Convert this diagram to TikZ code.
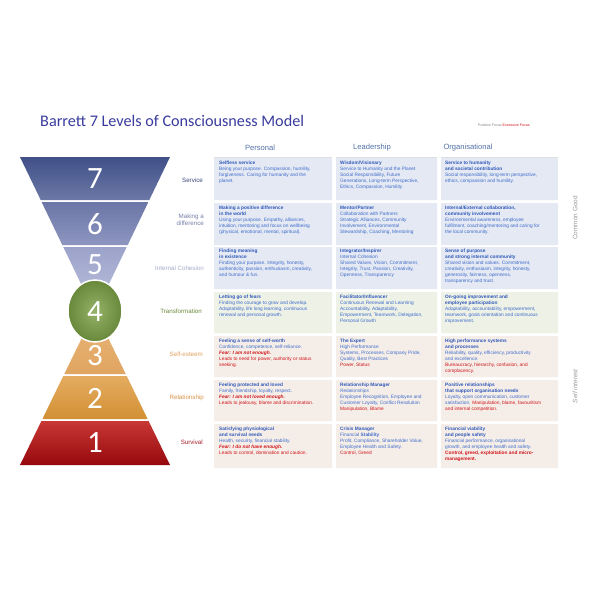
\documentclass[tikz,border=0pt]{standalone}
\usepackage{fontspec}
\setmainfont{Liberation Sans}
\newfontfamily\titlefont{Carlito}
\usetikzlibrary{shapes.geometric}
\definecolor{cblue}{HTML}{3F6CCC}
\definecolor{cbold}{HTML}{2F58BA}
\definecolor{cred}{HTML}{D0141A}
\definecolor{hdr}{HTML}{5272A6}
\definecolor{titlec}{HTML}{3A3C9E}
\definecolor{rowblue}{HTML}{E4E9F3}
\definecolor{rowgreen}{HTML}{EDF1E6}
\definecolor{rowbeige}{HTML}{F5EEE8}
\newcommand\ttl[1]{{\color{cbold}\textbf{#1}}}
\newcommand\rd[1]{{\color{cred}#1}}
\newcommand\fear[1]{{\color{cred}\textbf{\textit{#1}}}}
\begin{document}
\begin{tikzpicture}[x=1pt,y=-1pt,
  celltext/.style={anchor=north west, align=left, inner sep=0pt, text=cblue, font=\fontsize{4.8}{6}\selectfont},
  levellabel/.style={anchor=east, align=right, inner sep=0pt, font=\fontsize{6.2}{7.2}\selectfont},
  numlabel/.style={text=white, inner sep=0pt, font=\titlefont\fontsize{31}{31}\selectfont},
  header/.style={text=hdr, inner sep=0pt, font=\fontsize{7.6}{9}\selectfont},
  sidelabel/.style={text=gray!80, rotate=90, inner sep=0pt, font=\fontsize{6.4}{8}\selectfont}]
\useasboundingbox (0,0) rectangle (600,600);
\fill[white] (0,0) rectangle (600,600);

% title and legend
\node[anchor=west, inner sep=0pt, text=titlec, font=\titlefont\fontsize{16.2}{18}\selectfont] (title) at (40,121) {Barrett 7 Levels of Consciousness Model};
\node[anchor=west, inner sep=0pt, font=\fontsize{3.6}{4}\selectfont] (legend) at (478,125) {{\color{gray}Positive Focus} \rd{Excessive Focus}};

% headers
\node[header] (hp) at (260,148) {Personal};
\node[header] (hl) at (372,148) {Leadership};
\node[header] (ho) at (468,148) {Organisational};
\draw[gray!25, line width=0.6] (214,157) -- (332,157) (336,157) -- (437,157) (441,157) -- (558,157);

% pyramid
\shade[top color={rgb,255:red,64;green,80;blue,136}, bottom color={rgb,255:red,108;green,120;blue,166}] (20,157) -- (170,157) -- (149.3,200) -- (40.7,200) -- cycle;
\shade[top color={rgb,255:red,106;green,118;blue,166}, bottom color={rgb,255:red,142;green,150;blue,192}] (41.6,202) -- (148.4,202) -- (127.7,245) -- (62.3,245) -- cycle;
\shade[top color={rgb,255:red,156;green,163;blue,202}, bottom color={rgb,255:red,190;green,196;blue,222}] (63.3,247) -- (126.7,247) -- (95,313) -- cycle;
\shade[top color={rgb,255:red,234;green,184;blue,124}, bottom color={rgb,255:red,224;green,164;blue,96}] (95,311) -- (125.7,374) -- (64.3,374) -- cycle;
\shade[top color={rgb,255:red,228;green,172;blue,96}, bottom color={rgb,255:red,210;green,144;blue,52}] (63.3,376) -- (126.7,376) -- (147.6,419) -- (42.4,419) -- cycle;
\shade[top color={rgb,255:red,200;green,56;blue,52}, bottom color={rgb,255:red,150;green,8;blue,14}] (41.4,421) -- (148.6,421) -- (170,465) -- (20,465) -- cycle;
\shade[inner color={rgb,255:red,150;green,178;blue,104}, outer color={rgb,255:red,104;green,136;blue,58}, draw=white, line width=1.5] (95,311) ellipse [x radius=27, y radius=31];

\node[numlabel] (n7) at (95,179) {7};
\node[numlabel] (n6) at (95,224) {6};
\node[numlabel] (n5) at (95,265) {5};
\node[numlabel] (n4) at (95,312) {4};
\node[numlabel] (n3) at (95,356) {3};
\node[numlabel] (n2) at (95,398) {2};
\node[numlabel] (n1) at (95,443) {1};

\node[levellabel, text={rgb,255:red,58;green,72;blue,125}] (l7) at (203,180) {Service};
\node[levellabel, text={rgb,255:red,120;green,128;blue,170}] (l6) at (204,220) {Making a\\difference};
\node[levellabel, text={rgb,255:red,165;green,172;blue,200}] (l5) at (204,268) {Internal Cohesion};
\node[levellabel, text={rgb,255:red,105;green,138;blue,58}] (l4) at (202,311) {Transformation};
\node[levellabel, text={rgb,255:red,226;green,160;blue,96}] (l3) at (203,354) {Self-esteem};
\node[levellabel, text={rgb,255:red,214;green,146;blue,70}] (l2) at (204,398) {Relationship};
\node[levellabel, text={rgb,255:red,168;green,30;blue,42}] (l1) at (203,442) {Survival};

% cells
\fill[rowblue] (214,158) rectangle (332,200) (336,158) rectangle (437,200) (441,158) rectangle (558,200);
\fill[rowblue] (214,203) rectangle (332,245) (336,203) rectangle (437,245) (441,203) rectangle (558,245);
\fill[rowblue] (214,247) rectangle (332,289) (336,247) rectangle (437,289) (441,247) rectangle (558,289);
\fill[rowgreen] (214,292) rectangle (332,333) (336,292) rectangle (437,333) (441,292) rectangle (558,333);
\fill[rowbeige] (214,336) rectangle (332,377) (336,336) rectangle (437,377) (441,336) rectangle (558,377);
\fill[rowbeige] (214,380) rectangle (332,421) (336,380) rectangle (437,421) (441,380) rectangle (558,421);
\fill[rowbeige] (214,424) rectangle (332,468) (336,424) rectangle (437,468) (441,424) rectangle (558,468);

% row 7
\node[celltext] (p7) at (219,160.5) {\ttl{Selfless service}\\Being your purpose. Compassion, humility,\\forgiveness. Caring for humanity and the\\planet.};
\node[celltext] (d7) at (340,160.5) {\ttl{Wisdom/Visionary}\\Service to Humanity and the Planet\\Social Responsibility, Future\\Generations, Long-term Perspective,\\Ethics, Compassion, Humility};
\node[celltext] (o7) at (445,160.5) {\ttl{Service to humanity}\\\ttl{and societal contribution}\\Social responsibility, long-term perspective,\\ethics, compassion and humility.};
% row 6
\node[celltext] (p6) at (219,205.5) {\ttl{Making a positive difference}\\\ttl{in the world}\\Using your purpose. Empathy,  alliances,\\intuition, mentoring and focus on wellbeing\\(physical, emotional, mental, spiritual).};
\node[celltext] (d6) at (340,205.5) {\ttl{Mentor/Partner}\\Collaboration with Partners\\Strategic Alliances, Community\\Involvement, Environmental\\Stewardship, Coaching, Mentoring};
\node[celltext] (o6) at (445,205.5) {\ttl{Internal/External collaboration,}\\\ttl{community involvement}\\Environmental awareness, employee\\fulfilment, coaching/mentoring and caring for\\the local community.};
% row 5
\node[celltext] (p5) at (219,249) {\ttl{Finding meaning}\\\ttl{in existence}\\Finding your purpose. Integrity, honesty,\\authenticity, passion, enthusiasm, creativity,\\and humour \& fun.};
\node[celltext] (d5) at (340,249) {\ttl{Integrator/Inspirer}\\Internal Cohesion\\Shared Values, Vision, Commitment,\\Integrity, Trust, Passion, Creativity,\\Openness, Transparency};
\node[celltext] (o5) at (445,249) {\ttl{Sense of purpose}\\\ttl{and strong internal community}\\Shared vision and values. Commitment,\\creativity, enthusiasm, integrity, honesty,\\generosity, fairness, openness,\\transparency and trust.};
% row 4
\node[celltext] (p4) at (219,294.5) {\ttl{Letting go of fears}\\Finding the courage to grow and develop.\\Adaptability, life long learning, continuous\\renewal and personal growth.};
\node[celltext] (d4) at (340,294.5) {\ttl{Facilitator/Influencer}\\Continuous Renewal and Learning\\Accountability, Adaptability,\\Empowerment, Teamwork, Delegation,\\Personal Growth};
\node[celltext] (o4) at (445,294.5) {\ttl{On-going improvement and}\\\ttl{employee participation}\\Adaptability, accountability, empowerment,\\teamwork, goals orientation and continuous\\improvement.};
% row 3
\node[celltext] (p3) at (219,338.5) {\ttl{Feeling a sense of self-worth}\\Confidence, competence, self-reliance.\\\fear{Fear: I am not enough.}\\\rd{Leads to need for power, authority or status}\\\rd{seeking.}};
\node[celltext] (d3) at (340,338.5) {\ttl{The Expert}\\High Performance\\Systems, Processes, Company Pride,\\Quality, Best Practices\\\rd{Power, Status}};
\node[celltext] (o3) at (445,338.5) {\ttl{High performance systems}\\\ttl{and processes}\\Reliability, quality, efficiency, productivity\\and excellence.\\\rd{Bureaucracy, hierarchy, confusion, and}\\\rd{complacency.}};
% row 2
\node[celltext] (p2) at (219,382.5) {\ttl{Feeling protected and loved}\\Family, friendship, loyalty, respect.\\\fear{Fear: I am not loved enough.}\\\rd{Leads to jealousy, blame and discrimination.}};
\node[celltext] (d2) at (340,382.5) {\ttl{Relationship Manager}\\\textit{Relationships}\\Employee Recognition, Employee and\\Customer Loyalty, Conflict Resolution\\\rd{Manipulation, Blame}};
\node[celltext] (o2) at (445,382.5) {\ttl{Positive relationships}\\\ttl{that support organisation needs}\\Loyalty, open communication, customer\\satisfaction. \rd{Manipulation, blame, favouritism}\\\rd{and internal competition.}};
% row 1
\node[celltext] (p1) at (219,427) {\ttl{Satisfying physiological}\\\ttl{and survival needs}\\Health, security, financial stability.\\\fear{Fear: I do not have enough.}\\\rd{Leads to control, domination and caution.}};
\node[celltext] (d1) at (340,427) {\ttl{Crisis Manager}\\Financial \textbf{Stability}\\Profit, Compliance, Shareholder Value,\\Employee Health and Safety.\\\rd{Control, Greed}};
\node[celltext] (o1) at (445,427) {\ttl{Financial viability}\\\ttl{and people safety}\\Financial performance, organisational\\growth, and employee health and safety.\\\rd{\textbf{Control, greed, exploitation and micro-}}\\\rd{\textbf{management.}}};

% side labels
\node[sidelabel] (cg) at (575,218) {Common Good};
\node[sidelabel] (si) at (575,386) {\textit{Self interest}};
\end{tikzpicture}
\end{document}
